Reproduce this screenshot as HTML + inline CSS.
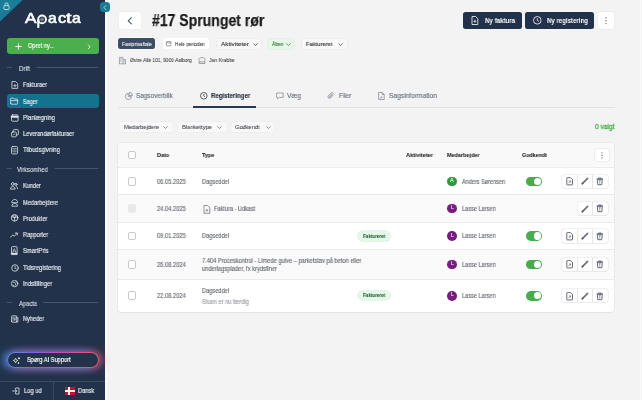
<!DOCTYPE html>
<html><head><meta charset="utf-8"><style>
*{box-sizing:border-box;margin:0;padding:0}
html,body{width:642px;height:400px;overflow:hidden;background:#f3f3f3;font-family:"Liberation Sans",sans-serif;white-space:nowrap}
.a{position:absolute}
.t{position:absolute;line-height:1;transform-origin:0 0;white-space:nowrap;will-change:transform;-webkit-text-stroke:0.15px currentColor}
svg{position:absolute;overflow:visible}
</style></head><body>
<div class="a" style="left:0;top:0;width:105px;height:400px;background:#21324a"></div><div class="a" style="left:105px;top:0;width:1.5px;height:400px;background:#fbfbfb"></div><div class="a" style="left:640px;top:0;width:1px;height:400px;background:#fbfbfb"></div><svg style="left:0;top:0" width="23" height="22"><path d="M0 0H22.5L0 21.5Z" fill="#197d98"/></svg><svg style="left:3px;top:2px" width="7" height="8" viewBox="0 0 7 8"><rect x="0.9" y="3.6" width="5.2" height="3.9" rx="0.9" fill="none" stroke="#d6e6eb" stroke-width="0.85"/><path d="M2 3.6V2.4a1.5 1.5 0 0 1 3 0V3.6" fill="none" stroke="#d6e6eb" stroke-width="0.85"/></svg><span class="t" style="left:24.90px;top:10.87px;font-size:14.8px;color:#ffffff;transform:scaleX(1.165);-webkit-text-stroke:0.6px #fff;">A</span><span class="t" style="left:47.80px;top:10.87px;font-size:14.8px;color:#ffffff;transform:scaleX(1.055);-webkit-text-stroke:0.6px #fff;">a</span><span class="t" style="left:57.60px;top:10.87px;font-size:14.8px;color:#ffffff;transform:scaleX(1.108);-webkit-text-stroke:0.6px #fff;">c</span><span class="t" style="left:66.30px;top:10.87px;font-size:14.8px;color:#ffffff;transform:scaleX(1.337);-webkit-text-stroke:0.6px #fff;">t</span><span class="t" style="left:72.30px;top:10.87px;font-size:14.8px;color:#ffffff;transform:scaleX(1.055);-webkit-text-stroke:0.6px #fff;">a</span><svg style="left:36px;top:13px" width="12" height="16" viewBox="0 0 12 16"><circle cx="6.1" cy="6.4" r="3.9" fill="none" stroke="#fff" stroke-width="1.9"/><path d="M2.3 6.4V14.9" stroke="#fff" stroke-width="2.1"/><circle cx="6.1" cy="6.4" r="2.2" fill="#556173"/><path d="M6.1 4.6v3.6M4.3 6.4h3.6" stroke="#9aa3b0" stroke-width="0.6"/></svg><div class="a" style="left:99.8px;top:2px;width:10.2px;height:10px;border-radius:3.5px;background:#177b95"></div><svg style="left:103.2px;top:4.6px" width="4" height="6" viewBox="0 0 4 6"><path d="M2.9 0.5L1 2.6l1.9 2.1" fill="none" stroke="#cfe6ee" stroke-width="0.75" stroke-linecap="round" stroke-linejoin="round"/></svg><div class="a" style="left:7px;top:38px;width:92px;height:16px;border-radius:3px;background:#4bae4f"></div><svg style="left:15px;top:42.5px" width="7" height="7" viewBox="0 0 7 7"><path d="M3.5 0.3v6.4M0.3 3.5h6.4" stroke="#fff" stroke-width="0.9"/></svg><span class="t" style="left:28.00px;top:43.10px;font-size:6.5px;color:#ffffff;transform:scaleX(0.871);">Opret ny...</span><svg style="left:86.5px;top:43.5px" width="4" height="6" viewBox="0 0 4 6"><path d="M1 0.6l2 2.2-2 2.2" fill="none" stroke="#fff" stroke-width="0.8"/></svg><div class="a" style="left:7px;top:67.2px;width:5px;height:0.8px;background:#45566d"></div><div class="a" style="left:36.6px;top:67.2px;width:61.9px;height:0.8px;background:#45566d"></div><span class="t" style="left:19.00px;top:65.97px;font-size:6.3px;color:#e3e8ee;transform:scaleX(0.953);-webkit-text-stroke:0.06px currentColor;">Drift</span><div class="a" style="left:7px;top:168.1px;width:5px;height:0.8px;background:#45566d"></div><div class="a" style="left:54.8px;top:168.1px;width:43.7px;height:0.8px;background:#45566d"></div><span class="t" style="left:17.10px;top:166.57px;font-size:6.3px;color:#e3e8ee;transform:scaleX(0.926);-webkit-text-stroke:0.06px currentColor;">Virksomhed</span><div class="a" style="left:7px;top:302.2px;width:5px;height:0.8px;background:#45566d"></div><div class="a" style="left:43.2px;top:302.2px;width:55.3px;height:0.8px;background:#45566d"></div><span class="t" style="left:18.50px;top:300.97px;font-size:6.3px;color:#e3e8ee;transform:scaleX(0.918);-webkit-text-stroke:0.06px currentColor;">Apacta</span><div class="a" style="left:7px;top:93.8px;width:91.5px;height:14.2px;border-radius:3px;background:#13728e"></div><span class="t" style="left:23.40px;top:82.40px;font-size:6.5px;color:#e9edf2;transform:scaleX(0.863);">Fakturaer</span><span class="t" style="left:23.40px;top:98.80px;font-size:6.5px;color:#e9edf2;transform:scaleX(0.842);">Sager</span><span class="t" style="left:23.40px;top:115.20px;font-size:6.5px;color:#e9edf2;transform:scaleX(0.880);">Planlægning</span><span class="t" style="left:23.40px;top:131.20px;font-size:6.5px;color:#e9edf2;transform:scaleX(0.869);">Leverandørfakturaer</span><span class="t" style="left:23.40px;top:147.20px;font-size:6.5px;color:#e9edf2;transform:scaleX(0.893);">Tilbudsgivning</span><span class="t" style="left:23.40px;top:182.50px;font-size:6.5px;color:#e9edf2;transform:scaleX(0.854);">Kunder</span><span class="t" style="left:23.40px;top:199.90px;font-size:6.5px;color:#e9edf2;transform:scaleX(0.870);">Medarbejdere</span><span class="t" style="left:23.40px;top:215.90px;font-size:6.5px;color:#e9edf2;transform:scaleX(0.866);">Produkter</span><span class="t" style="left:23.40px;top:232.30px;font-size:6.5px;color:#e9edf2;transform:scaleX(0.872);">Rapporter</span><span class="t" style="left:23.40px;top:247.60px;font-size:6.5px;color:#e9edf2;transform:scaleX(0.894);">SmartPris</span><span class="t" style="left:23.40px;top:265.20px;font-size:6.5px;color:#e9edf2;transform:scaleX(0.897);">Tidsregistering</span><span class="t" style="left:23.40px;top:280.50px;font-size:6.5px;color:#e9edf2;transform:scaleX(0.888);">Indstillinger</span><span class="t" style="left:23.40px;top:315.50px;font-size:6.5px;color:#e9edf2;transform:scaleX(0.855);">Nyheder</span><svg style="left:10.5px;top:80.5px" width="8" height="8" viewBox="0 0 8 8"><g fill="none" stroke="#dfe4ea" stroke-width="0.8" stroke-linecap="round" stroke-linejoin="round"><path d="M1.3 0.6h3.4l2 2v4.8H1.3z"/><path d="M4 3.4v2.6M2.7 4.7h2.6" stroke-width="0.7"/></g></svg><svg style="left:10.2px;top:96.8px" width="8" height="8" viewBox="0 0 8 8"><g fill="none" stroke="#dfe4ea" stroke-width="0.8" stroke-linecap="round" stroke-linejoin="round"><path d="M0.7 6.6V1.6a0.6 0.6 0 0 1 0.6-0.6h2l0.9 1h2.8a0.6 0.6 0 0 1 0.6 0.6v4a0.6 0.6 0 0 1-0.6 0.6H1.3a0.6 0.6 0 0 1-0.6-0.6z"/><path d="M0.7 3.6h6.9"/></g></svg><svg style="left:10.8px;top:113.6px" width="8" height="8" viewBox="0 0 8 8"><g fill="none" stroke="#dfe4ea" stroke-width="0.8" stroke-linecap="round" stroke-linejoin="round"><rect x="0.5" y="0.9" width="6.6" height="6.3" rx="1"/><path d="M0.5 2h6.6v1.6H0.5z" fill="#dfe4ea" stroke-width="0.5"/></g></svg><svg style="left:10.6px;top:129.2px" width="8" height="8" viewBox="0 0 8 8"><g fill="none" stroke="#dfe4ea" stroke-width="0.8" stroke-linecap="round" stroke-linejoin="round"><rect x="0.6" y="3" width="4.7" height="4.8" rx="0.8"/><path d="M2.2 2.8V1.6a1 1 0 0 1 1-1h3.2a1 1 0 0 1 1 1v3.4a1 1 0 0 1-1 1H5.4"/><circle cx="2.9" cy="5.4" r="0.55" fill="#dfe4ea" stroke="none"/></g></svg><svg style="left:11px;top:145.8px" width="8" height="9" viewBox="0 0 8 9"><g fill="none" stroke="#dfe4ea" stroke-width="0.8" stroke-linecap="round" stroke-linejoin="round"><rect x="0.5" y="0.5" width="6.1" height="7.4" rx="1.2"/><path d="M1.8 2.6h3.5M1.8 4.2h3.5M1.8 5.8h3.5" stroke-width="0.6"/></g></svg><svg style="left:10.3px;top:181.8px" width="8" height="8" viewBox="0 0 8 8"><g fill="none" stroke="#dfe4ea" stroke-width="0.8" stroke-linecap="round" stroke-linejoin="round"><circle cx="2.8" cy="2" r="1.4"/><path d="M0.5 6.7c0-1.3 1-2.1 2.3-2.1s2.4 0.8 2.4 2.1z"/><circle cx="6" cy="2.4" r="1.1"/><path d="M6.3 4.6c0.8 0.2 1.3 0.9 1.3 2.1"/></g></svg><svg style="left:10.5px;top:198.6px" width="8" height="8" viewBox="0 0 8 8"><g fill="none" stroke="#dfe4ea" stroke-width="0.8" stroke-linecap="round" stroke-linejoin="round"><path d="M0.8 3.3C0.8 1.5 2.1 0.5 3.7 0.5s2.9 1 2.9 2.8z"/><path d="M0.9 6.8c0-1.5 1.3-2.4 2.8-2.4s2.8 0.9 2.8 2.4z"/></g></svg><svg style="left:10.6px;top:214.2px" width="8" height="8" viewBox="0 0 8 8"><g fill="none" stroke="#dfe4ea" stroke-width="0.8" stroke-linecap="round" stroke-linejoin="round"><circle cx="3.6" cy="3.8" r="3.3"/><path d="M2 1.8h3.2L3.6 3.8zM3.6 3.8v3.3M3.6 3.8L0.6 2.6M3.6 3.8l3-1.2" stroke-width="0.7"/></g></svg><svg style="left:10.3px;top:231px" width="8" height="8" viewBox="0 0 8 8"><g fill="none" stroke="#dfe4ea" stroke-width="0.8" stroke-linecap="round" stroke-linejoin="round"><path d="M0.6 6.2l2.3-2.4 1.4 1.4 3-3.1"/><path d="M5.3 2h2v2" /></g></svg><svg style="left:11px;top:246.4px" width="7" height="9" viewBox="0 0 7 9"><g fill="none" stroke="#dfe4ea" stroke-width="0.8" stroke-linecap="round" stroke-linejoin="round"><path d="M0.5 8.2V1.6a1 1 0 0 1 1-1h3.6a1 1 0 0 1 1 1v6.6z"/><path d="M1.6 6.4L3.3 2.6 5 6.4M2.2 5h2.2" stroke-width="0.6"/><path d="M0.5 7h5.6v1.2H0.5z" fill="#dfe4ea" stroke-width="0.4"/></g></svg><svg style="left:10.5px;top:263.8px" width="8" height="8" viewBox="0 0 8 8"><g fill="none" stroke="#dfe4ea" stroke-width="0.8" stroke-linecap="round" stroke-linejoin="round"><circle cx="4" cy="4" r="3.3"/><path d="M4 2.1v2.1l1.4 0.8" stroke-width="0.75"/></g></svg><svg style="left:10.8px;top:280.3px" width="8" height="8" viewBox="0 0 8 8"><g fill="none" stroke="#dfe4ea" stroke-width="0.8" stroke-linecap="round" stroke-linejoin="round"><circle cx="3.6" cy="3.6" r="3.2"/><path d="M2.2 2.2l1.6 0.4 0.9 1.1-0.5 1.6M4.8 2h1M2 4.8l0.8 0.9" stroke-width="0.7"/></g></svg><svg style="left:10.8px;top:314.8px" width="8" height="8" viewBox="0 0 8 8"><g fill="none" stroke="#dfe4ea" stroke-width="0.8" stroke-linecap="round" stroke-linejoin="round"><path d="M0.6 6.6V1.4a0.6 0.6 0 0 1 0.6-0.6h3.9a0.6 0.6 0 0 1 0.6 0.6v5.8H1.2a0.6 0.6 0 0 1-0.6-0.6z"/><path d="M5.7 2.6h1.2v3.9a0.7 0.7 0 0 1-1.4 0"/><path d="M1.7 2.3h2.8M1.7 3.7h1.3M1.7 5.1h1.3M3.5 3.7h1v1.4h-1z" stroke-width="0.55"/></g></svg><div class="a" style="left:7.2px;top:352px;width:91.8px;height:16.3px;border-radius:8px;box-shadow:-4px 0 9px rgba(70,150,235,.8),4px 0 9px rgba(235,85,105,.65),0 0 8px rgba(190,70,210,.45)"></div><div class="a" style="left:7.2px;top:352px;width:91.8px;height:16.3px;border-radius:8px;background:linear-gradient(90deg,#4f90e0 0%,#8a5ee0 30%,#c94ac8 55%,#e4547a 85%,#e85a66 100%);padding:1.1px"><div style="width:100%;height:100%;border-radius:7px;background:#22334b"></div></div><svg style="left:12px;top:355.5px" width="9" height="9" viewBox="0 0 9 9"><path d="M3.6 2.2L4.3 3.8 5.9 4.5 4.3 5.2 3.6 6.8 2.9 5.2 1.3 4.5 2.9 3.8Z" fill="none" stroke="#e6ebf0" stroke-width="0.8" stroke-linejoin="round"/><path d="M7 1.1L8.1 2.3 7 3.5 5.8 2.3Z" fill="#eef2f5"/><path d="M6.5 5.9L7.5 6.9 6.5 7.9 5.5 6.9Z" fill="#eef2f5"/></svg><span class="t" style="left:27.40px;top:357.10px;font-size:6.5px;color:#ffffff;transform:scaleX(0.876);">Spørg AI Support</span><div class="a" style="left:0;top:380.6px;width:105px;height:0.8px;background:#3a4b61"></div><div class="a" style="left:52.8px;top:381px;width:0.8px;height:19px;background:#3a4b61"></div><svg style="left:12.3px;top:387px" width="8" height="8" viewBox="0 0 8 8"><g fill="none" stroke="#dfe4ea" stroke-width="0.8" stroke-linecap="round" stroke-linejoin="round"><path d="M3.6 2V1h3.4v6H3.6V6M0.6 4h4.2M3.2 2.6L4.8 4 3.2 5.4"/></g></svg><span class="t" style="left:23.50px;top:388.00px;font-size:6.5px;color:#e9edf2;transform:scaleX(0.885);">Log ud</span><div class="a" style="left:64.6px;top:387.1px;width:10px;height:8px;background:#c8102e"></div><div class="a" style="left:67.7px;top:387.1px;width:2px;height:8px;background:#fff"></div><div class="a" style="left:64.6px;top:390.1px;width:10px;height:1.8px;background:#fff"></div><span class="t" style="left:77.60px;top:388.00px;font-size:6.5px;color:#e9edf2;transform:scaleX(0.873);">Dansk</span><div class="a" style="left:118.8px;top:12px;width:22.2px;height:16.8px;border-radius:2.5px;background:#fff;box-shadow:0 0 0 0.4px #e9e9e9"></div><svg style="left:127px;top:16.6px" width="6" height="8" viewBox="0 0 6 8"><path d="M4.4 0.7L1.2 3.8 4.4 6.9" fill="none" stroke="#4a5262" stroke-width="1.05" stroke-linecap="round" stroke-linejoin="round"/></svg><span class="t" style="left:151.50px;top:13.09px;font-size:15.6px;font-weight:bold;color:#1b1b1d;transform:scaleX(0.900);-webkit-text-stroke:0.25px #1b1b1d;">#17 Sprunget rør</span><div class="a" style="left:463px;top:12px;width:58.8px;height:16.8px;border-radius:2.5px;background:#21324a"></div><div class="a" style="left:525.1px;top:12px;width:69.2px;height:16.8px;border-radius:2.5px;background:#21324a"></div><div class="a" style="left:597.9px;top:12.3px;width:16.3px;height:16.5px;border-radius:2.5px;background:#fff;box-shadow:0 0 0 0.4px #e6e6e6"></div><svg style="left:604.9px;top:16.5px" width="2" height="8" viewBox="0 0 2 8"><circle cx="1" cy="0.9" r="0.65" fill="#555b66"/><circle cx="1" cy="3.7" r="0.65" fill="#555b66"/><circle cx="1" cy="6.6" r="0.65" fill="#555b66"/></svg><svg style="left:470.8px;top:16.1px" width="8" height="9" viewBox="0 0 8 9"><path d="M1 0.5h3.6l2.2 2.2v5.8H1z" fill="none" stroke="#fff" stroke-width="0.8" stroke-linejoin="round"/><path d="M3.9 3.8v3M2.4 5.3h3" stroke="#fff" stroke-width="0.7"/></svg><span class="t" style="left:484.80px;top:17.27px;font-size:7px;font-weight:bold;color:#ffffff;transform:scaleX(0.881);-webkit-text-stroke:0;">Ny faktura</span><svg style="left:532.5px;top:16.1px" width="9" height="9" viewBox="0 0 9 9"><circle cx="4.3" cy="4.3" r="3.8" fill="none" stroke="#fff" stroke-width="0.8"/><path d="M4.3 2.2v2.3l1.6 0.9" fill="none" stroke="#fff" stroke-width="0.75"/></svg><span class="t" style="left:546.80px;top:17.17px;font-size:7px;font-weight:bold;color:#ffffff;transform:scaleX(0.871);-webkit-text-stroke:0;">Ny registering</span><div class="a" style="left:118.4px;top:38.4px;width:36.6px;height:10.9px;border-radius:2.5px;background:#3d4e64;box-shadow:0 0 0 0.6px #fdfdfd"></div><span class="t" style="left:122.00px;top:40.75px;font-size:6.2px;color:#ffffff;transform:scaleX(0.803);-webkit-text-stroke:0.06px currentColor;">Fastprisaftale</span><div class="a" style="left:162.5px;top:38.4px;width:46.5px;height:10.9px;border-radius:2.5px;background:#fff"></div><svg style="left:166.4px;top:41.4px" width="5" height="5" viewBox="0 0 5 5"><rect x="0.3" y="0.6" width="4.6" height="4.2" rx="0.6" fill="none" stroke="#555" stroke-width="0.55"/><path d="M0.3 1.8h4.6" stroke="#555" stroke-width="0.5"/></svg><span class="t" style="left:175.40px;top:40.75px;font-size:6.2px;color:#333;transform:scaleX(0.774);-webkit-text-stroke:0.06px currentColor;">Hele perioden</span><div class="a" style="left:216.8px;top:38.6px;width:44.599999999999966px;height:10.5px;border-radius:2.5px;background:#f8f8f8;box-shadow:0 0 0 0.5px #e8e8e8"></div><span class="t" style="left:221.00px;top:40.75px;font-size:6.2px;color:#333;transform:scaleX(1.029);-webkit-text-stroke:0.06px currentColor;-webkit-text-stroke:0.12px currentColor;">Aktiviteter</span><svg style="left:252.5px;top:42.5px" width="5" height="3" viewBox="0 0 5 3"><path d="M0.5 0.5l2 2 2-2" fill="none" stroke="#333" stroke-width="0.7"/></svg><div class="a" style="left:268px;top:38.6px;width:26px;height:10.5px;border-radius:2.5px;background:#e6f6e8;box-shadow:0 0 0 0.5px #dcefdf"></div><span class="t" style="left:271.50px;top:40.75px;font-size:6.2px;color:#2a7a2e;transform:scaleX(0.794);-webkit-text-stroke:0.06px currentColor;-webkit-text-stroke:0.12px currentColor;">Åben</span><svg style="left:286px;top:42.5px" width="5" height="3" viewBox="0 0 5 3"><path d="M0.5 0.5l2 2 2-2" fill="none" stroke="#2a7a2e" stroke-width="0.7"/></svg><div class="a" style="left:301.8px;top:38.6px;width:45.19999999999999px;height:10.5px;border-radius:2.5px;background:#f8f8f8;box-shadow:0 0 0 0.5px #e8e8e8"></div><span class="t" style="left:306.00px;top:40.75px;font-size:6.2px;color:#333;transform:scaleX(0.938);-webkit-text-stroke:0.06px currentColor;-webkit-text-stroke:0.12px currentColor;">Faktureret</span><svg style="left:338px;top:42.5px" width="5" height="3" viewBox="0 0 5 3"><path d="M0.5 0.5l2 2 2-2" fill="none" stroke="#333" stroke-width="0.7"/></svg><svg style="left:118.9px;top:56.8px" width="7" height="7" viewBox="0 0 7 7"><path d="M0.5 6.8V0.4h3.4v6.4M3.9 2.6h2.6v4.2M0 6.8h7M1.4 1.6h1.2M1.4 2.9h1.2M1.4 4.2h1.2M4.9 3.9h0.8M4.9 5.1h0.8" fill="none" stroke="#6b6f76" stroke-width="0.55"/></svg><span class="t" style="left:129.80px;top:58.06px;font-size:5.6px;color:#3b3b3b;transform:scaleX(0.867);-webkit-text-stroke:0.06px currentColor;">Østre Allé 101, 9000 Aalborg</span><svg style="left:198.3px;top:56.8px" width="8" height="7" viewBox="0 0 8 7"><path d="M1.2 3.6C0.4 3 0.6 1.5 1.8 1.4 2.4 0.3 5.6 0.3 6.2 1.4 7.4 1.5 7.6 3 6.8 3.6V6.5H1.2z M1.2 4.9h5.6" fill="none" stroke="#6b6f76" stroke-width="0.6"/></svg><span class="t" style="left:209.30px;top:58.06px;font-size:5.6px;color:#3b3b3b;transform:scaleX(0.897);-webkit-text-stroke:0.06px currentColor;">Jan Krabbe</span><div class="a" style="left:118px;top:107px;width:497px;height:0.7px;background:#e3e3e3"></div><div class="a" style="left:192.8px;top:106.4px;width:63.5px;height:1.9px;background:#263a55"></div><svg style="left:125px;top:91.6px" width="8" height="8" viewBox="0 0 8 8"><path d="M3.2 1.3A3.1 3.1 0 1 0 6.5 4.6H3.2z" fill="none" stroke="#7b8391" stroke-width="0.7" stroke-linejoin="round"/><path d="M4.3 0.4A3.1 3.1 0 0 1 7.4 3.5H4.3z" fill="none" stroke="#7b8391" stroke-width="0.7" stroke-linejoin="round"/></svg><span class="t" style="left:136.20px;top:92.54px;font-size:6.8px;color:#6b7380;transform:scaleX(0.942);">Sagsoverblik</span><svg style="left:199.8px;top:91.9px" width="8" height="8" viewBox="0 0 8 8"><circle cx="3.8" cy="3.8" r="3.3" fill="none" stroke="#2f3a4a" stroke-width="0.8"/><path d="M3.8 2v2l1.3 0.8" fill="none" stroke="#2f3a4a" stroke-width="0.7"/></svg><span class="t" style="left:210.80px;top:92.54px;font-size:6.8px;font-weight:bold;color:#2a3444;transform:scaleX(0.894);">Registeringer</span><svg style="left:276px;top:92px" width="8" height="8" viewBox="0 0 8 8"><path d="M0.6 1h6.6v4.4H3.4L1.6 6.8V5.4h-1z" fill="none" stroke="#7b8391" stroke-width="0.7" stroke-linejoin="round"/></svg><span class="t" style="left:287.00px;top:92.54px;font-size:6.8px;color:#6b7380;transform:scaleX(0.975);">Væg</span><svg style="left:327px;top:92px" width="8" height="8" viewBox="0 0 8 8"><path d="M6 3.4L3.6 5.9a1.5 1.5 0 0 1-2.2-2.2L4.2 0.9a1 1 0 0 1 1.5 1.5L3 5.1a0.45 0.45 0 0 1-0.7-0.7L4.6 2" fill="none" stroke="#7b8391" stroke-width="0.7" stroke-linejoin="round" stroke-linecap="round"/></svg><span class="t" style="left:338.60px;top:92.54px;font-size:6.8px;color:#6b7380;transform:scaleX(0.923);">Filer</span><svg style="left:378px;top:91.9px" width="7" height="8" viewBox="0 0 7 8"><path d="M0.6 0.5h3.6l2 2v5H0.6z M4.2 0.5v2h2 M2 5.9h1.8V4.2" fill="none" stroke="#7b8391" stroke-width="0.7" stroke-linejoin="round"/></svg><span class="t" style="left:388.70px;top:92.54px;font-size:6.8px;color:#6b7380;transform:scaleX(0.977);">Sagsinformation</span><div class="a" style="left:118.7px;top:122.1px;width:54.3px;height:9.7px;border-radius:2.5px;background:#f8f8f9;box-shadow:0 0 0 0.5px #e9e9ea"></div><span class="t" style="left:123.50px;top:124.22px;font-size:6px;color:#383e48;transform:scaleX(0.948);-webkit-text-stroke:0.06px currentColor;">Medarbejdere</span><svg style="left:163.3px;top:125.9px" width="5" height="3" viewBox="0 0 5 3"><path d="M0.4 0.4l2.1 2 2.1-2" fill="none" stroke="#454b55" stroke-width="0.6"/></svg><div class="a" style="left:177.5px;top:122.1px;width:49.099999999999994px;height:9.7px;border-radius:2.5px;background:#f8f8f9;box-shadow:0 0 0 0.5px #e9e9ea"></div><span class="t" style="left:181.90px;top:124.22px;font-size:6px;color:#383e48;transform:scaleX(0.954);-webkit-text-stroke:0.06px currentColor;">Blankettype</span><svg style="left:217.2px;top:125.9px" width="5" height="3" viewBox="0 0 5 3"><path d="M0.4 0.4l2.1 2 2.1-2" fill="none" stroke="#454b55" stroke-width="0.6"/></svg><div class="a" style="left:231px;top:122.1px;width:43px;height:9.7px;border-radius:2.5px;background:#f8f8f9;box-shadow:0 0 0 0.5px #e9e9ea"></div><span class="t" style="left:235.20px;top:124.22px;font-size:6px;color:#383e48;transform:scaleX(0.946);-webkit-text-stroke:0.06px currentColor;">Godkendt</span><svg style="left:265.5px;top:125.9px" width="5" height="3" viewBox="0 0 5 3"><path d="M0.4 0.4l2.1 2 2.1-2" fill="none" stroke="#454b55" stroke-width="0.6"/></svg><span class="t" style="left:595.20px;top:123.07px;font-size:7px;color:#4caf50;transform:scaleX(0.946);-webkit-text-stroke:0.3px #4caf50;">0 valgt</span>
<div class="a" style="left:118px;top:142.7px;width:496.4px;height:169.1px;border-radius:3px;background:#fff;box-shadow:0 0 0 0.5px #e4e4e4,0 0.6px 1.2px rgba(0,0,0,.07)"></div><div class="a" style="left:118px;top:142.7px;width:496.4px;height:24.5px;border-radius:3px 3px 0 0;background:#f9f9f9"></div><div class="a" style="left:118px;top:166.8px;width:496.4px;height:1.6px;background:#ececec"></div><div class="a" style="left:118px;top:194.6px;width:496.4px;height:27.700000000000017px;background:#fafafa"></div><div class="a" style="left:118px;top:249.5px;width:496.4px;height:29.69999999999999px;background:#fafafa"></div><div class="a" style="left:118px;top:194.1px;width:496.4px;height:1.1px;background:#ebebeb"></div><div class="a" style="left:118px;top:221.8px;width:496.4px;height:1.1px;background:#ebebeb"></div><div class="a" style="left:118px;top:249.0px;width:496.4px;height:1.1px;background:#ebebeb"></div><div class="a" style="left:118px;top:278.7px;width:496.4px;height:1.1px;background:#ebebeb"></div><div class="a" style="left:127.8px;top:151.1px;width:8.5px;height:8.4px;border-radius:2px;background:#fff;border:0.7px solid #c9c9c9"></div><span class="t" style="left:157.10px;top:153.29px;font-size:5.8px;font-weight:bold;color:#222;transform:scaleX(0.947);-webkit-text-stroke:0.06px currentColor;">Dato</span><span class="t" style="left:202.40px;top:153.29px;font-size:5.8px;font-weight:bold;color:#222;transform:scaleX(0.931);-webkit-text-stroke:0.06px currentColor;">Type</span><span class="t" style="left:405.80px;top:153.29px;font-size:5.8px;font-weight:bold;color:#222;transform:scaleX(0.952);-webkit-text-stroke:0.06px currentColor;">Aktiviteter</span><span class="t" style="left:447.20px;top:153.29px;font-size:5.8px;font-weight:bold;color:#222;transform:scaleX(0.945);-webkit-text-stroke:0.06px currentColor;">Medarbejder</span><span class="t" style="left:522.20px;top:153.29px;font-size:5.8px;font-weight:bold;color:#222;transform:scaleX(0.924);-webkit-text-stroke:0.06px currentColor;">Godkendt</span><div class="a" style="left:594.8px;top:148.8px;width:14.5px;height:12.2px;border-radius:2.5px;background:#fff;box-shadow:0 0 0 0.5px #e2e2e2"></div><svg style="left:601.2px;top:151.6px" width="2" height="7" viewBox="0 0 2 7"><circle cx="1" cy="0.9" r="0.55" fill="#5a606b"/><circle cx="1" cy="3.4" r="0.55" fill="#5a606b"/><circle cx="1" cy="5.9" r="0.55" fill="#5a606b"/></svg><div class="a" style="left:127.8px;top:177.3px;width:8.5px;height:8.4px;border-radius:2px;background:#fff;border:0.7px solid #c9c9c9"></div><span class="t" style="left:157.10px;top:179.00px;font-size:6.5px;color:#686c73;transform:scaleX(0.885);">06.05.2025</span><span class="t" style="left:202.40px;top:179.00px;font-size:6.5px;color:#686c73;transform:scaleX(0.869);">Dagseddel</span><div class="a" style="left:447.2px;top:176.5px;width:9.9px;height:9.9px;border-radius:50%;background:#2f9a3a"></div><span class="t" style="left:450.30px;top:179.25px;font-size:4.9px;color:#ffffff;transform:scaleX(1.132);-webkit-text-stroke:0.06px currentColor;">A</span><span class="t" style="left:462.40px;top:178.80px;font-size:6.5px;color:#686c73;transform:scaleX(0.852);">Anders Sørensen</span><div class="a" style="left:525.6px;top:176.5px;width:16.8px;height:9.9px;border-radius:5px;background:#4aaa4e"></div><div class="a" style="left:533.6px;top:177.70000000000002px;width:7.5px;height:7.5px;border-radius:50%;background:#fff"></div><div class="a" style="left:562.2px;top:174.6px;width:45.9px;height:13.6px;border-radius:2.5px;background:#fff;box-shadow:0 0 0 0.55px #e3e3e3,0 0.6px 0.8px rgba(0,0,0,.05)"></div><div class="a" style="left:577.4px;top:174.6px;width:0.6px;height:13.6px;background:#e6e6e6"></div><svg style="left:565.8px;top:177.3px" width="8" height="8" viewBox="0 0 8 8"><path d="M1.2 0.6h3.3l2 2v4.9a0.4 0.4 0 0 1-0.4 0.4H1.2a0.4 0.4 0 0 1-0.4-0.4V1a0.4 0.4 0 0 1 0.4-0.4z" fill="none" stroke="#5f6570" stroke-width="0.95" stroke-linejoin="round"/><path d="M2.6 6l1.9-1.9M3.2 3.9h1.4v1.4" fill="none" stroke="#5f6570" stroke-width="0.7"/></svg><div class="a" style="left:592.1px;top:174.6px;width:0.6px;height:13.6px;background:#e6e6e6"></div><svg style="left:581.3px;top:177.4px" width="8" height="8" viewBox="0 0 8 8"><path d="M1.4 6.6L6.6 1.4" stroke="#6d727b" stroke-width="1.7" stroke-linecap="round"/><path d="M1.2 6.8l0.6-0.6" stroke="#555a63" stroke-width="1.5" stroke-linecap="round"/></svg><svg style="left:596.3px;top:177.3px" width="8" height="8" viewBox="0 0 8 8"><path d="M0.6 1.9h6.4M2.4 1.9V1h2.8v0.9" fill="none" stroke="#5f6570" stroke-width="0.9"/><path d="M1.3 2.3l0.5 5.4h4l0.5-5.4z" fill="none" stroke="#5f6570" stroke-width="0.95" stroke-linejoin="round"/><path d="M3.8 3.4v3.2" stroke="#5f6570" stroke-width="0.7"/><path d="M2.8 3.4h2" stroke="#5f6570" stroke-width="0.5"/></svg><div class="a" style="left:127.8px;top:204.3px;width:8.5px;height:8.4px;border-radius:2px;background:#e9e9e9"></div><span class="t" style="left:157.10px;top:206.40px;font-size:6.5px;color:#686c73;transform:scaleX(0.885);">24.04.2025</span><svg style="left:202.8px;top:204.8px" width="8" height="9" viewBox="0 0 8 9"><path d="M1 0.5h3.6l2.2 2.2v5.6H1z" fill="none" stroke="#5f6570" stroke-width="0.7" stroke-linejoin="round"/><path d="M3.9 3.9v2.8M2.5 5.3h2.8" stroke="#5f6570" stroke-width="0.6"/></svg><span class="t" style="left:213.80px;top:206.40px;font-size:6.5px;color:#686c73;transform:scaleX(0.858);">Faktura - Udkast</span><div class="a" style="left:447.2px;top:203.6px;width:9.9px;height:9.9px;border-radius:50%;background:#7a1b80"></div><span class="t" style="left:450.70px;top:206.35px;font-size:4.9px;color:#ffffff;transform:scaleX(1.028);-webkit-text-stroke:0.06px currentColor;">L</span><span class="t" style="left:462.40px;top:206.20px;font-size:6.5px;color:#686c73;transform:scaleX(0.861);">Lasse Larsen</span><div class="a" style="left:577.7px;top:201.7px;width:30.4px;height:13.6px;border-radius:2.5px;background:#fff;box-shadow:0 0 0 0.55px #e3e3e3,0 0.6px 0.8px rgba(0,0,0,.05)"></div><div class="a" style="left:592.1px;top:201.7px;width:0.6px;height:13.6px;background:#e6e6e6"></div><svg style="left:581.3px;top:204.5px" width="8" height="8" viewBox="0 0 8 8"><path d="M1.4 6.6L6.6 1.4" stroke="#6d727b" stroke-width="1.7" stroke-linecap="round"/><path d="M1.2 6.8l0.6-0.6" stroke="#555a63" stroke-width="1.5" stroke-linecap="round"/></svg><svg style="left:596.3px;top:204.4px" width="8" height="8" viewBox="0 0 8 8"><path d="M0.6 1.9h6.4M2.4 1.9V1h2.8v0.9" fill="none" stroke="#5f6570" stroke-width="0.9"/><path d="M1.3 2.3l0.5 5.4h4l0.5-5.4z" fill="none" stroke="#5f6570" stroke-width="0.95" stroke-linejoin="round"/><path d="M3.8 3.4v3.2" stroke="#5f6570" stroke-width="0.7"/><path d="M2.8 3.4h2" stroke="#5f6570" stroke-width="0.5"/></svg><div class="a" style="left:127.8px;top:231.8px;width:8.5px;height:8.4px;border-radius:2px;background:#fff;border:0.7px solid #c9c9c9"></div><span class="t" style="left:157.10px;top:232.60px;font-size:6.5px;color:#686c73;transform:scaleX(0.885);">09.01.2025</span><span class="t" style="left:202.40px;top:232.60px;font-size:6.5px;color:#686c73;transform:scaleX(0.869);">Dagseddel</span><div class="a" style="left:358.1px;top:231.4px;width:31.7px;height:9.3px;border-radius:4.7px;background:#e5f8e9;box-shadow:0 0 0 0.6px #c9eed2"></div><span class="t" style="left:362.80px;top:233.64px;font-size:5.5px;font-weight:bold;color:#22622c;transform:scaleX(0.829);-webkit-text-stroke:0.06px currentColor;">Faktureret</span><div class="a" style="left:447.2px;top:231.1px;width:9.9px;height:9.9px;border-radius:50%;background:#7a1b80"></div><span class="t" style="left:450.70px;top:233.85px;font-size:4.9px;color:#ffffff;transform:scaleX(1.028);-webkit-text-stroke:0.06px currentColor;">L</span><span class="t" style="left:462.40px;top:232.50px;font-size:6.5px;color:#686c73;transform:scaleX(0.861);">Lasse Larsen</span><div class="a" style="left:525.6px;top:231.1px;width:16.8px;height:9.9px;border-radius:5px;background:#4aaa4e"></div><div class="a" style="left:533.6px;top:232.3px;width:7.5px;height:7.5px;border-radius:50%;background:#fff"></div><div class="a" style="left:562.2px;top:229.2px;width:45.9px;height:13.6px;border-radius:2.5px;background:#fff;box-shadow:0 0 0 0.55px #e3e3e3,0 0.6px 0.8px rgba(0,0,0,.05)"></div><div class="a" style="left:577.4px;top:229.2px;width:0.6px;height:13.6px;background:#e6e6e6"></div><svg style="left:565.8px;top:231.9px" width="8" height="8" viewBox="0 0 8 8"><path d="M1.2 0.6h3.3l2 2v4.9a0.4 0.4 0 0 1-0.4 0.4H1.2a0.4 0.4 0 0 1-0.4-0.4V1a0.4 0.4 0 0 1 0.4-0.4z" fill="none" stroke="#5f6570" stroke-width="0.95" stroke-linejoin="round"/><path d="M2.6 6l1.9-1.9M3.2 3.9h1.4v1.4" fill="none" stroke="#5f6570" stroke-width="0.7"/></svg><div class="a" style="left:592.1px;top:229.2px;width:0.6px;height:13.6px;background:#e6e6e6"></div><svg style="left:581.3px;top:232px" width="8" height="8" viewBox="0 0 8 8"><path d="M1.4 6.6L6.6 1.4" stroke="#6d727b" stroke-width="1.7" stroke-linecap="round"/><path d="M1.2 6.8l0.6-0.6" stroke="#555a63" stroke-width="1.5" stroke-linecap="round"/></svg><svg style="left:596.3px;top:231.9px" width="8" height="8" viewBox="0 0 8 8"><path d="M0.6 1.9h6.4M2.4 1.9V1h2.8v0.9" fill="none" stroke="#5f6570" stroke-width="0.9"/><path d="M1.3 2.3l0.5 5.4h4l0.5-5.4z" fill="none" stroke="#5f6570" stroke-width="0.95" stroke-linejoin="round"/><path d="M3.8 3.4v3.2" stroke="#5f6570" stroke-width="0.7"/><path d="M2.8 3.4h2" stroke="#5f6570" stroke-width="0.5"/></svg><div class="a" style="left:127.8px;top:260.2px;width:8.5px;height:8.4px;border-radius:2px;background:#fff;border:0.7px solid #c9c9c9"></div><span class="t" style="left:157.10px;top:262.00px;font-size:6.5px;color:#686c73;transform:scaleX(0.885);">26.08.2024</span><span class="t" style="left:201.90px;top:258.10px;font-size:6.5px;color:#686c73;transform:scaleX(0.881);">7.404 Proceskontrol - Limede gulve – parketstav på beton eller</span><span class="t" style="left:202.00px;top:265.90px;font-size:6.5px;color:#686c73;transform:scaleX(0.883);">underlagsplader, fx krydsfiner</span><div class="a" style="left:447.2px;top:259.5px;width:9.9px;height:9.9px;border-radius:50%;background:#7a1b80"></div><span class="t" style="left:450.70px;top:262.25px;font-size:4.9px;color:#ffffff;transform:scaleX(1.028);-webkit-text-stroke:0.06px currentColor;">L</span><span class="t" style="left:462.40px;top:261.90px;font-size:6.5px;color:#686c73;transform:scaleX(0.861);">Lasse Larsen</span><div class="a" style="left:525.6px;top:259.5px;width:16.8px;height:9.9px;border-radius:5px;background:#4aaa4e"></div><div class="a" style="left:533.6px;top:260.7px;width:7.5px;height:7.5px;border-radius:50%;background:#fff"></div><div class="a" style="left:562.2px;top:257.59999999999997px;width:45.9px;height:13.6px;border-radius:2.5px;background:#fff;box-shadow:0 0 0 0.55px #e3e3e3,0 0.6px 0.8px rgba(0,0,0,.05)"></div><div class="a" style="left:577.4px;top:257.59999999999997px;width:0.6px;height:13.6px;background:#e6e6e6"></div><svg style="left:565.8px;top:260.29999999999995px" width="8" height="8" viewBox="0 0 8 8"><path d="M1.2 0.6h3.3l2 2v4.9a0.4 0.4 0 0 1-0.4 0.4H1.2a0.4 0.4 0 0 1-0.4-0.4V1a0.4 0.4 0 0 1 0.4-0.4z" fill="none" stroke="#5f6570" stroke-width="0.95" stroke-linejoin="round"/><path d="M2.6 6l1.9-1.9M3.2 3.9h1.4v1.4" fill="none" stroke="#5f6570" stroke-width="0.7"/></svg><div class="a" style="left:592.1px;top:257.59999999999997px;width:0.6px;height:13.6px;background:#e6e6e6"></div><svg style="left:581.3px;top:260.4px" width="8" height="8" viewBox="0 0 8 8"><path d="M1.4 6.6L6.6 1.4" stroke="#6d727b" stroke-width="1.7" stroke-linecap="round"/><path d="M1.2 6.8l0.6-0.6" stroke="#555a63" stroke-width="1.5" stroke-linecap="round"/></svg><svg style="left:596.3px;top:260.29999999999995px" width="8" height="8" viewBox="0 0 8 8"><path d="M0.6 1.9h6.4M2.4 1.9V1h2.8v0.9" fill="none" stroke="#5f6570" stroke-width="0.9"/><path d="M1.3 2.3l0.5 5.4h4l0.5-5.4z" fill="none" stroke="#5f6570" stroke-width="0.95" stroke-linejoin="round"/><path d="M3.8 3.4v3.2" stroke="#5f6570" stroke-width="0.7"/><path d="M2.8 3.4h2" stroke="#5f6570" stroke-width="0.5"/></svg><div class="a" style="left:127.8px;top:291.40000000000003px;width:8.5px;height:8.4px;border-radius:2px;background:#fff;border:0.7px solid #c9c9c9"></div><span class="t" style="left:157.10px;top:293.20px;font-size:6.5px;color:#686c73;transform:scaleX(0.885);">22.08.2024</span><span class="t" style="left:202.40px;top:288.10px;font-size:6.5px;color:#686c73;transform:scaleX(0.869);">Dagseddel</span><span class="t" style="left:202.00px;top:298.60px;font-size:6.5px;color:#9a9ea5;transform:scaleX(0.871);">Stuen er nu færdig</span><div class="a" style="left:358.1px;top:291.0px;width:31.7px;height:9.3px;border-radius:4.7px;background:#e5f8e9;box-shadow:0 0 0 0.6px #c9eed2"></div><span class="t" style="left:362.80px;top:293.24px;font-size:5.5px;font-weight:bold;color:#22622c;transform:scaleX(0.829);-webkit-text-stroke:0.06px currentColor;">Faktureret</span><div class="a" style="left:447.2px;top:290.70000000000005px;width:9.9px;height:9.9px;border-radius:50%;background:#7a1b80"></div><span class="t" style="left:450.70px;top:293.45px;font-size:4.9px;color:#ffffff;transform:scaleX(1.028);-webkit-text-stroke:0.06px currentColor;">L</span><span class="t" style="left:462.40px;top:293.10px;font-size:6.5px;color:#686c73;transform:scaleX(0.861);">Lasse Larsen</span><div class="a" style="left:525.6px;top:290.70000000000005px;width:16.8px;height:9.9px;border-radius:5px;background:#4aaa4e"></div><div class="a" style="left:533.6px;top:291.90000000000003px;width:7.5px;height:7.5px;border-radius:50%;background:#fff"></div><div class="a" style="left:562.2px;top:288.8px;width:45.9px;height:13.6px;border-radius:2.5px;background:#fff;box-shadow:0 0 0 0.55px #e3e3e3,0 0.6px 0.8px rgba(0,0,0,.05)"></div><div class="a" style="left:577.4px;top:288.8px;width:0.6px;height:13.6px;background:#e6e6e6"></div><svg style="left:565.8px;top:291.5px" width="8" height="8" viewBox="0 0 8 8"><path d="M1.2 0.6h3.3l2 2v4.9a0.4 0.4 0 0 1-0.4 0.4H1.2a0.4 0.4 0 0 1-0.4-0.4V1a0.4 0.4 0 0 1 0.4-0.4z" fill="none" stroke="#5f6570" stroke-width="0.95" stroke-linejoin="round"/><path d="M2.6 6l1.9-1.9M3.2 3.9h1.4v1.4" fill="none" stroke="#5f6570" stroke-width="0.7"/></svg><div class="a" style="left:592.1px;top:288.8px;width:0.6px;height:13.6px;background:#e6e6e6"></div><svg style="left:581.3px;top:291.6px" width="8" height="8" viewBox="0 0 8 8"><path d="M1.4 6.6L6.6 1.4" stroke="#6d727b" stroke-width="1.7" stroke-linecap="round"/><path d="M1.2 6.8l0.6-0.6" stroke="#555a63" stroke-width="1.5" stroke-linecap="round"/></svg><svg style="left:596.3px;top:291.5px" width="8" height="8" viewBox="0 0 8 8"><path d="M0.6 1.9h6.4M2.4 1.9V1h2.8v0.9" fill="none" stroke="#5f6570" stroke-width="0.9"/><path d="M1.3 2.3l0.5 5.4h4l0.5-5.4z" fill="none" stroke="#5f6570" stroke-width="0.95" stroke-linejoin="round"/><path d="M3.8 3.4v3.2" stroke="#5f6570" stroke-width="0.7"/><path d="M2.8 3.4h2" stroke="#5f6570" stroke-width="0.5"/></svg>
</body></html>
